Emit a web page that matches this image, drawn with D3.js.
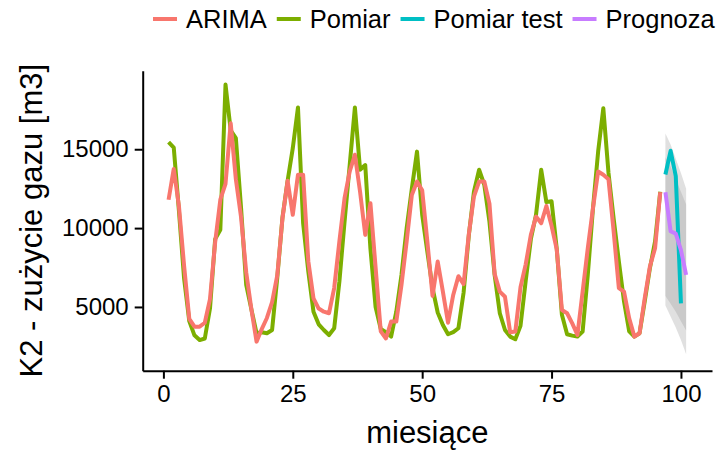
<!DOCTYPE html>
<html>
<head>
<meta charset="utf-8">
<script src="https://cdn.jsdelivr.net/npm/d3@7"></script>
<style>
  body { margin: 0; background: #fff; }
  svg { display: block; }
</style>
</head>
<body>
<div id="chart"></div>
<script>
// measured gas use, months 1..96
const pomiar = [
  15450, 15100, 11100, 6800, 4100, 3200, 2900, 3000, 4900, 9300, 9900, 19100,
  16200, 15700, 11300, 6400, 4850, 3330, 3400, 3330, 3540, 6850, 10650, 13000,
  15070, 17650, 10300, 7250, 4700, 3900, 3540, 3220, 3650, 6600, 10400, 14000,
  17650, 13700, 14000, 8700, 5000, 3600, 3400, 3120, 4700, 7030, 10000, 12500,
  14850, 10850, 8500, 6200, 4650, 3860, 3270, 3400, 3650, 5900, 9500, 12300,
  13700, 12750, 10400, 7030, 4600, 3540, 3120, 2950, 3800, 6650, 9300, 10850,
  13700, 11650, 11700, 8700, 4500, 3270, 3180, 3120, 3440, 7030, 11250, 14850,
  17600, 13500, 10600, 7900, 5350, 3450, 3120, 3330, 5350, 7450, 9150, 12300
];
// ARIMA fitted values, months 1..96
const arima = [
  11800, 13750, 11400, 7600, 4250, 3750, 3750, 4000, 5500, 9100, 11800, 12800,
  16650, 13100, 10700, 7200, 4850, 2800, 3600, 4300, 5300, 7000, 10600, 13000,
  10840, 13380, 13380, 7900, 5550, 4900, 4700, 4600, 6200, 9150, 11900, 13600,
  14650, 12300, 9570, 11580, 7500, 3450, 3000, 4070, 4070, 6400, 9150, 12100,
  12950, 12400, 9150, 5700, 7880, 5970, 4000, 5760, 6950, 6450, 9570, 12000,
  12950, 12950, 11550, 7100, 5970, 5650, 3400, 3440, 6250, 7700, 9570, 10730,
  10310, 11400, 10150, 8650, 4810, 4600, 3960, 3220, 5970, 8720, 11260, 13590,
  13380, 13100, 9780, 6190, 5970, 4280, 3120, 3330, 5550, 7560, 8720, 12280
];
// test period and forecast
const testMonths = [97, 98, 99, 100];
const pomiarTest = [13400, 14900, 13300, 5230];
const progMonths = [97, 98, 99, 100, 101];
const prognoza = [12280, 9800, 9650, 8600, 7030];
const hi95 = [16000, 15300, 14400, 13500, 12500];
const hi80 = [14500, 13900, 13100, 12300, 11500];
const lo80 = [5700, 5200, 4700, 4100, 3500];
const lo95 = [5100, 4400, 3700, 2900, 2000];

const xTicks = [0, 25, 50, 75, 100];
const yTicks = [5000, 10000, 15000];
const seriesNames = ['ARIMA', 'Pomiar', 'Pomiar test', 'Prognoza'];
const seriesColors = ['#F8766D', '#7CAE00', '#00BFC4', '#C77CFF'];

const W = 716, H = 453;
const margin = { top: 70.7, right: 4, bottom: 82.3, left: 142.7 };
const FONT = '"Liberation Sans", Arial, sans-serif';
const color = d3.scaleOrdinal().domain(seriesNames).range(seriesColors);

const svg = d3.select('#chart').append('svg')
  .attr('width', W).attr('height', H);

const x = d3.scaleLinear().domain([-4, 106]).range([margin.left, W - margin.right]);
const y = d3.scaleLinear().domain([958, 19980]).range([H - margin.bottom, margin.top]);

const line = d3.line()
  .x(d => x(d[0]))
  .y(d => y(d[1]));

const pomiarPts = pomiar.map((v, i) => [i + 1, v]);
const arimaPts = arima.map((v, i) => [i + 1, v]);
const testPts = testMonths.map((m, i) => [m, pomiarTest[i]]);
const progPts = progMonths.map((m, i) => [m, prognoza[i]]);

function drawLine(pts, name) {
  svg.append('path')
    .attr('d', line(pts))
    .attr('fill', 'none')
    .attr('stroke', color(name))
    .attr('stroke-width', 4)
    .attr('stroke-linejoin', 'round')
}

drawLine(pomiarPts, 'Pomiar')
drawLine(arimaPts, 'ARIMA')

// forecast ribbons (95% then 80%)
const area = d3.area()
  .x(d => x(d.m))
  .y0(d => y(d.lo))
  .y1(d => y(d.hi));

const band95 = progMonths.map((m, i) => ({ m, lo: lo95[i], hi: hi95[i] }));
const band80 = progMonths.map((m, i) => ({ m, lo: lo80[i], hi: hi80[i] }));
;[band95, band80].forEach(b => {
  svg.append('path')
    .attr('d', area(b))
    .attr('fill', '#999999')
    .attr('fill-opacity', 0.3)
})

drawLine(testPts, 'Pomiar test')
drawLine(progPts, 'Prognoza')

// axes
function styleAxis(g) {
  g.select('.domain').attr('stroke', '#000').attr('stroke-width', 2)
  g.selectAll('.tick line').attr('stroke', '#000').attr('stroke-width', 2)
  g.selectAll('.tick text')
    .attr('fill', '#000')
    .attr('font-size', '24px')
    .attr('font-family', FONT)
}

svg.append('g')
  .attr('transform', `translate(0,${H - margin.bottom})`)
  .call(d3.axisBottom(x).tickValues(xTicks).tickSizeInner(8).tickSizeOuter(0).tickPadding(6))
  .call(styleAxis)

svg.append('g')
  .attr('transform', `translate(${margin.left},0)`)
  .call(d3.axisLeft(y).tickValues(yTicks).tickFormat(d3.format('d')).tickSizeInner(8).tickSizeOuter(0).tickPadding(6))
  .call(styleAxis)

// axis titles
svg.append('text')
  .attr('x', (margin.left + W - margin.right) / 2)
  .attr('y', 443)
  .attr('text-anchor', 'middle')
  .attr('font-size', '31px')
  .attr('font-family', FONT)
  .attr('fill', '#000')
  .text('miesiące')

svg.append('text')
  .attr('transform', `translate(42,${(margin.top + H - margin.bottom) / 2}) rotate(-90)`)
  .attr('text-anchor', 'middle')
  .attr('font-size', '31px')
  .attr('font-family', FONT)
  .attr('fill', '#000')
  .text('K2 - zużycie gazu [m3]')

// legend on top
const legend = svg.append('g').attr('transform', 'translate(153,19)')
let lx = 0
seriesNames.forEach(name => {
  const item = legend.append('g').attr('transform', `translate(${lx},0)`)
  item.append('line')
    .attr('x1', 0).attr('x2', 24)
    .attr('y1', 0).attr('y2', 0)
    .attr('stroke', color(name))
    .attr('stroke-width', 4)
  const t = item.append('text')
    .attr('x', 33).attr('y', 9)
    .attr('font-size', '25.5px')
    .attr('font-family', FONT)
    .attr('fill', '#000')
    .text(name)
  lx += 33 + t.node().getComputedTextLength() + 10
})
</script>
</body>
</html>
